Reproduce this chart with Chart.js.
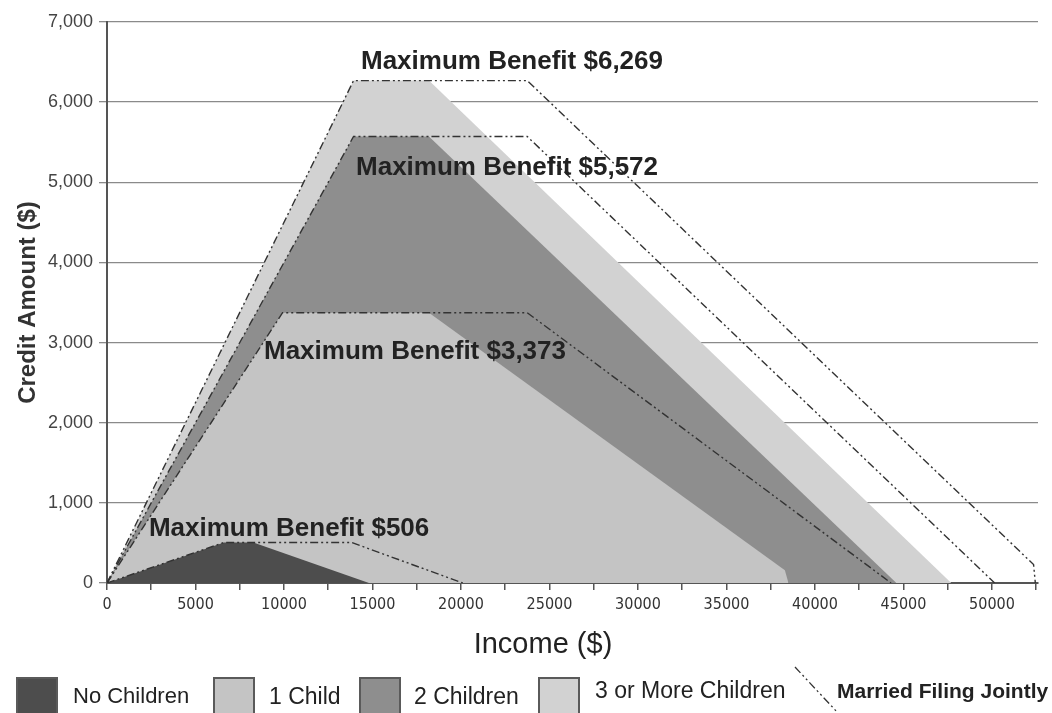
<!DOCTYPE html>
<html>
<head>
<meta charset="utf-8">
<script src="https://cdn.jsdelivr.net/npm/chart.js@4.4.1/dist/chart.umd.min.js"></script>
<style>
    html, body { margin: 0; padding: 0; background: #fff; }
    #wrap { position: relative; width: 1052px; height: 713px; overflow: hidden; }
    #chart { position: absolute; left: 0; top: 0; }
    .lg { position: absolute; font-family: "Liberation Sans", Arial, sans-serif; color: #222; white-space: nowrap; line-height: 1; }
    .box { position: absolute; top: 677px; width: 42px; height: 42px; border: 2px solid #5a5a5a; box-sizing: border-box; }
</style>
</head>
<body>
<div id="wrap">
    <canvas id="chart" width="1052" height="713"></canvas>
    <div class="lg" style="left:0;width:1086px;text-align:center;top:629px;font-size:29px">Income ($)</div>
    <div class="box" style="left:16px;background:#4d4d4d"></div>
    <div class="lg" style="left:73px;top:685px;font-size:22px">No Children</div>
    <div class="box" style="left:213px;background:#c4c4c4"></div>
    <div class="lg" style="left:269px;top:685px;font-size:23px">1 Child</div>
    <div class="box" style="left:359px;background:#8e8e8e"></div>
    <div class="lg" style="left:414px;top:685px;font-size:23px">2 Children</div>
    <div class="box" style="left:538px;background:#d2d2d2"></div>
    <div class="lg" style="left:595px;top:679px;font-size:23px">3 or More Children</div>
    <svg style="position:absolute;left:790px;top:660px" width="60" height="53">
        <line x1="5" y1="7" x2="48" y2="53" stroke="#333" stroke-width="1.3" stroke-dasharray="8,3,2,3,2,3"/>
    </svg>
    <div class="lg" style="left:837px;top:680px;font-size:21px;font-weight:bold">Married Filing Jointly</div>
</div>
<script>
/* EITC 2016 — credit amount by income, single vs married filing jointly */

// single filers (filled areas): income breakpoints and credit values
const noChildX = [0, 6610, 8270, 14800];
const noChildY = [0, 506, 506, 0];
const oneChildX = [0, 9920, 18190, 38300, 38500];
const oneChildY = [0, 3373, 3373, 160, 0];
const twoChildX = [0, 13930, 18190, 44600];
const twoChildY = [0, 5572, 5572, 0];
const threeChildX = [0, 13930, 18190, 47700];
const threeChildY = [0, 6269, 6269, 0];

// married filing jointly (dash-dot lines)
const mfjNoneX = [0, 6610, 13820, 20100];
const mfjNoneY = [0, 506, 506, 0];
const mfjOneX = [0, 9920, 23740, 44300];
const mfjOneY = [0, 3373, 3373, 0];
const mfjTwoX = [0, 13930, 23740, 50150];
const mfjTwoY = [0, 5572, 5572, 0];
const mfjThreeX = [0, 13930, 23740, 52350, 52450];
const mfjThreeY = [0, 6269, 6269, 230, 0];

const xTicks = [0, 2500, 5000, 7500, 10000, 12500, 15000, 17500, 20000, 22500, 25000,
    27500, 30000, 32500, 35000, 37500, 40000, 42500, 45000, 47500, 50000, 52500];
const yTicks = [0, 1000, 2000, 3000, 4000, 5000, 6000, 7000];

const benefitLabels = ['Maximum Benefit $6,269', 'Maximum Benefit $5,572',
    'Maximum Benefit $3,373', 'Maximum Benefit $506'];
const benefitAt = [[14350, 6500], [14070, 5178], [8870, 2882], [2370, 674]];

function pts(xs, ys) {
    return xs.map(function (x, i) { return { x: x, y: ys[i] }; });
}

function area(data, color, order) {
    return { data: data, backgroundColor: color, borderWidth: 0, fill: 'origin',
        pointRadius: 0, tension: 0, order: order };
}

function mfj(data) {
    return { data: data, borderColor: '#333', borderWidth: 1.4, borderDash: [8, 3, 2, 3, 2, 3],
        fill: false, pointRadius: 0, tension: 0, order: 0 };
}

const labelPlugin = {
    id: 'benefitLabels',
    afterDatasetsDraw: function (chart) {
        const ctx = chart.ctx;
        const sx = chart.scales.x, sy = chart.scales.y;
        ctx.save();
        ctx.font = 'bold 26px "Liberation Sans", Arial, sans-serif';
        ctx.fillStyle = '#222';
        ctx.textAlign = 'left';
        ctx.textBaseline = 'middle';
        benefitLabels.forEach(function (t, i) {
            ctx.fillText(t, sx.getPixelForValue(benefitAt[i][0]), sy.getPixelForValue(benefitAt[i][1]));
        });
        ctx.restore();
    }
};

new Chart(document.getElementById('chart'), {
    type: 'line',
    data: {
        datasets: [
            area(pts(noChildX, noChildY), '#4d4d4d', 1),
            area(pts(oneChildX, oneChildY), '#c4c4c4', 2),
            area(pts(twoChildX, twoChildY), '#8e8e8e', 3),
            area(pts(threeChildX, threeChildY), '#d2d2d2', 4),
            mfj(pts(mfjNoneX, mfjNoneY)),
            mfj(pts(mfjOneX, mfjOneY)),
            mfj(pts(mfjTwoX, mfjTwoY)),
            mfj(pts(mfjThreeX, mfjThreeY)),
        ],
    },
    options: {
        responsive: false,
        animation: false,
        layout: { padding: { top: 22, right: 14, left: 0, bottom: 0 } },
        plugins: { legend: { display: false }, tooltip: { enabled: false } },
        scales: {
            x: {
                type: 'linear', min: 0, max: 52600,
                afterBuildTicks: function (s) { s.ticks = xTicks.map(function (v) { return { value: v }; }); },
                afterFit: function (s) { s.height = 130; },
                ticks: {
                    autoSkip: false, maxRotation: 0, padding: 5, color: '#333',
                    font: { size: 16, family: '"Liberation Sans Narrow", "DejaVu Sans Condensed", sans-serif' },
                    callback: function (v) { return v % 5000 === 0 ? String(v) : ''; },
                },
                grid: { drawOnChartArea: false, tickLength: 7, color: '#555', lineWidth: 1.5 },
                border: { color: '#555', width: 2 },
            },
            y: {
                min: 0, max: 7000,
                afterBuildTicks: function (s) { s.ticks = yTicks.map(function (v) { return { value: v }; }); },
                afterFit: function (s) { s.width = 107; },
                ticks: {
                    padding: 6, color: '#444',
                    font: { size: 18, family: '"Liberation Sans", Arial, sans-serif' },
                    callback: function (v) { return v.toLocaleString('en-US'); },
                },
                grid: { color: '#8a8a8a', lineWidth: 1.3, tickLength: 8 },
                border: { color: '#555', width: 2 },
                title: {
                    display: true, text: 'Credit Amount ($)', color: '#333',
                    font: { size: 24, weight: 'bold', family: '"Liberation Sans", Arial, sans-serif' },
                    padding: { top: 14 },
                },
            },
        },
    },
    plugins: [labelPlugin],
});
</script>
</body>
</html>
